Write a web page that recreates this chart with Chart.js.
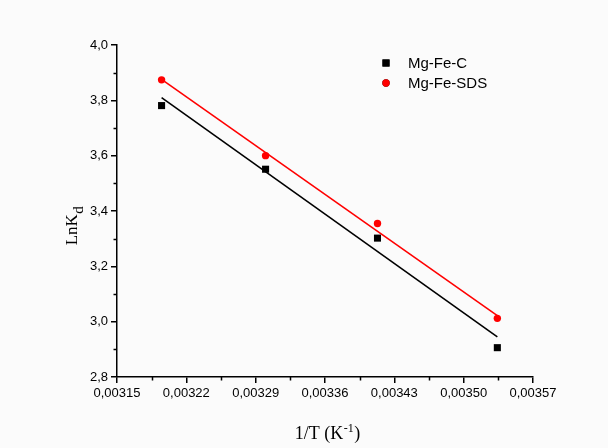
<!DOCTYPE html>
<html>
<head>
<meta charset="utf-8">
<script src="https://cdn.jsdelivr.net/npm/chart.js@4/dist/chart.umd.min.js"></script>
<style>
  html, body { margin: 0; padding: 0; background: #fbfbfb; }
  #wrap { width: 608px; height: 448px; }
</style>
</head>
<body>
<div id="wrap"><canvas id="c" width="608" height="448"></canvas></div>
<script>
// Data
const invT      = [0.003195, 0.003300, 0.003413, 0.003534];
const lnKdC     = [3.781, 3.551, 3.302, 2.906];
const lnKdSDS   = [3.874, 3.600, 3.355, 3.012];
const fitX      = [0.003195, 0.003534];
const fitC      = [3.810, 2.945];
const fitSDS    = [3.876, 3.022];
const xTicks    = [0.00315, 0.00322, 0.00329, 0.00336, 0.00343, 0.00350, 0.00357];
const yTicks    = [2.8, 3.0, 3.2, 3.4, 3.6, 3.8, 4.0];
const seriesNames = ['Mg-Fe-C', 'Mg-Fe-SDS'];

const toPts = (xs, ys) => xs.map((x, i) => ({ x: x, y: ys[i] }));

const overlay = {
  id: 'overlay',
  afterDraw(chart) {
    const ctx = chart.ctx;
    const xs = chart.scales.x, ys = chart.scales.y;
    const area = chart.chartArea;
    ctx.save();
    ctx.strokeStyle = '#000';
    ctx.lineWidth = 1.5;
    // minor ticks
    ctx.beginPath();
    for (let i = 0; i < xTicks.length - 1; i++) {
      const px = Math.round(xs.getPixelForValue((xTicks[i] + xTicks[i + 1]) / 2)) + 0.5;
      ctx.moveTo(px, area.bottom);
      ctx.lineTo(px, area.bottom + 3.5);
    }
    for (let i = 0; i < yTicks.length - 1; i++) {
      const py = Math.round(ys.getPixelForValue((yTicks[i] + yTicks[i + 1]) / 2)) + 0.5;
      ctx.moveTo(area.left, py);
      ctx.lineTo(area.left - 3.5, py);
    }
    ctx.stroke();

    // x title: 1/T (K^-1)
    ctx.fillStyle = '#000';
    ctx.textBaseline = 'alphabetic';
    ctx.textAlign = 'left';
    const big = '18px "Liberation Serif", "Times New Roman", serif';
    const small = '12px "Liberation Serif", "Times New Roman", serif';
    ctx.font = big;
    const p1 = '1/T (K', p3 = ')';
    const w1 = ctx.measureText(p1).width, w3 = ctx.measureText(p3).width;
    ctx.font = small;
    const p2 = '-1';
    const w2 = ctx.measureText(p2).width;
    let x0 = 327 - (w1 + w2 + w3) / 2;
    const base = 439;
    ctx.font = big; ctx.fillText(p1, x0, base);
    ctx.font = small; ctx.fillText(p2, x0 + w1 + 0.5, base - 7);
    ctx.font = big; ctx.fillText(p3, x0 + w1 + w2 + 1, base);

    // y title: LnK_d (rotated)
    ctx.translate(77, 226);
    ctx.rotate(-Math.PI / 2);
    const yb = '17px "Liberation Serif", "Times New Roman", serif';
    const ysm = '15px "Liberation Serif", "Times New Roman", serif';
    ctx.font = yb;
    const q1 = 'LnK';
    const v1 = ctx.measureText(q1).width;
    ctx.font = ysm;
    const v2 = ctx.measureText('d').width;
    const sx = -(v1 + v2) / 2;
    ctx.font = yb; ctx.fillText(q1, sx, 0);
    ctx.font = ysm; ctx.fillText('d', sx + v1 + 0.5, 6);
    ctx.setTransform(1, 0, 0, 1, 0, 0);

    // legend
    const lx = 386;
    const items = [
      { name: seriesNames[0], y: 63, ds: chart.data.datasets[0] },
      { name: seriesNames[1], y: 83, ds: chart.data.datasets[1] }
    ];
    ctx.font = '15px "Liberation Sans", Arial, sans-serif';
    ctx.textBaseline = 'middle';
    items.forEach(it => {
      Chart.helpers.drawPoint(ctx, {
        pointStyle: it.ds.pointStyle,
        radius: it.ds.pointRadius,
        borderWidth: 0,
        rotation: 0
      }, lx, it.y);
      ctx.fillStyle = it.ds.backgroundColor;
      ctx.fill();
      ctx.fillStyle = '#000';
      ctx.fillText(it.name, 408, it.y + 1);
    });
    ctx.restore();
  }
};

new Chart(document.getElementById('c'), {
  type: 'scatter',
  data: {
    datasets: [
      {
        label: seriesNames[0],
        data: toPts(invT, lnKdC),
        pointStyle: 'rect',
        pointRadius: 5,
        pointHoverRadius: 5,
        backgroundColor: '#000',
        borderColor: '#000',
        borderWidth: 0,
        showLine: false,
        order: 1
      },
      {
        label: seriesNames[1],
        data: toPts(invT, lnKdSDS),
        pointStyle: 'circle',
        pointRadius: 3.7,
        pointHoverRadius: 3.7,
        backgroundColor: '#ff0000',
        borderColor: '#ff0000',
        borderWidth: 0,
        showLine: false,
        order: 1
      },
      {
        label: 'fitC',
        data: toPts(fitX, fitC),
        showLine: true,
        pointRadius: 0,
        borderColor: '#000',
        borderWidth: 1.6,
        fill: false,
        order: 2
      },
      {
        label: 'fitSDS',
        data: toPts(fitX, fitSDS),
        showLine: true,
        pointRadius: 0,
        borderColor: '#ff0000',
        borderWidth: 1.6,
        fill: false,
        order: 2
      }
    ]
  },
  options: {
    responsive: false,
    animation: false,
    events: [],
    layout: { padding: { left: 0, top: 45, right: 75, bottom: 0 } },
    plugins: { legend: { display: false }, tooltip: { enabled: false }, title: { display: false } },
    scales: {
      x: {
        type: 'linear',
        min: xTicks[0],
        max: xTicks[xTicks.length - 1],
        afterBuildTicks: s => { s.ticks = xTicks.map(v => ({ value: v })); },
        afterFit: s => { s.height = 71; },
        grid: { drawOnChartArea: false, tickLength: 6, color: '#000', lineWidth: 1.5 },
        border: { color: '#000', width: 1.5 },
        ticks: {
          color: '#000',
          padding: 3,
          maxRotation: 0,
          autoSkip: false,
          font: { family: '"Liberation Sans", Arial, sans-serif', size: 13 },
          callback: v => v.toFixed(5).replace('.', ',')
        }
      },
      y: {
        type: 'linear',
        min: yTicks[0],
        max: yTicks[yTicks.length - 1],
        afterBuildTicks: s => { s.ticks = yTicks.map(v => ({ value: v })); },
        afterFit: s => { s.width = 117; },
        grid: { drawOnChartArea: false, tickLength: 6, color: '#000', lineWidth: 1.5 },
        border: { color: '#000', width: 1.5 },
        ticks: {
          color: '#000',
          padding: 3,
          autoSkip: false,
          font: { family: '"Liberation Sans", Arial, sans-serif', size: 13 },
          callback: v => v.toFixed(1).replace('.', ',')
        }
      }
    }
  },
  plugins: [overlay]
});
</script>
</body>
</html>
